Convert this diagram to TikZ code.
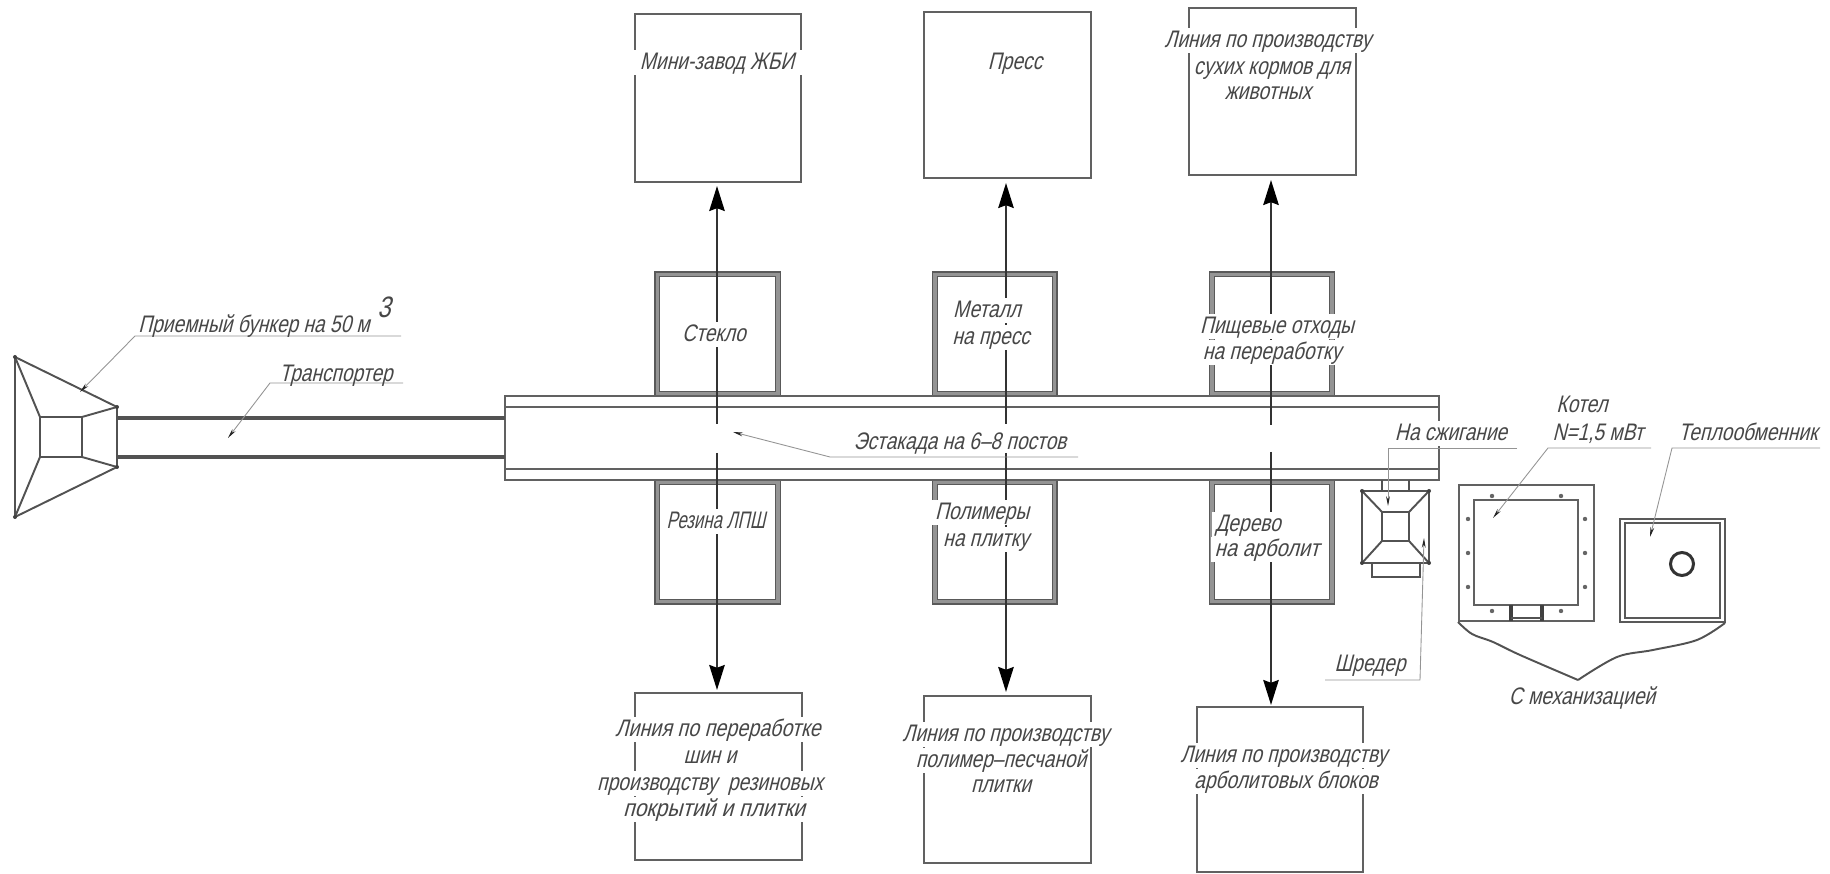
\documentclass[tikz,border=0pt]{standalone}
\usepackage{graphicx}
\usepackage{fontspec}
\setmainfont[FakeSlant=0.25,FakeStretch=0.8]{Liberation Sans}
\usetikzlibrary{arrows.meta,shapes.geometric}
\tikzset{
  every node/.style={inner sep=0pt,outer sep=0pt},
  lbl/.style={anchor=base,fill=white,text=black!72,font=\fontsize{6.8}{8}\selectfont,text height=5.6pt,text depth=1.4pt,inner xsep=1pt},
  plainbox/.style={draw=black!62,line width=.55pt,rectangle},
  wallbox/.style={draw=black!65,line width=.4pt,double=black!42,double distance=.9pt,rectangle},
  flowarrow/.style={draw=black!80,line width=.55pt,-{Stealth[length=7.1pt,width=4.4pt,inset=.8pt,black]}},
  leaderline/.style={draw=black!42,line width=.25pt,-{Stealth[length=2.8pt,width=1.1pt,black!85]}},
  outline/.style={draw=black!68,line width=.55pt},
  belt/.style={draw=black!68,line width=1pt},
  rail/.style={draw=black!62,line width=.55pt},
  stud/.style={fill=black!60}
}
\begin{document}
\begin{tikzpicture}[x=0.01cm,y=-0.01cm,line join=miter]
\useasboundingbox (0,0) rectangle (1830,874);
% product boxes
\node[plainbox,minimum width=1.66cm,minimum height=1.68cm] (top1) at (718,98) {};
\node[plainbox,minimum width=1.67cm,minimum height=1.66cm] (top2) at (1007.5,95) {};
\node[plainbox,minimum width=1.67cm,minimum height=1.67cm] (top3) at (1272.5,91.5) {};
\node[plainbox,minimum width=1.67cm,minimum height=1.67cm] (low1) at (718.5,776.5) {};
\node[plainbox,minimum width=1.67cm,minimum height=1.67cm] (low2) at (1007.5,779.5) {};
\node[plainbox,minimum width=1.66cm,minimum height=1.65cm] (low3) at (1280,789.5) {};
% sorting bays
\node[wallbox,minimum width=1.205cm,minimum height=1.19cm] (up1) at (717.75,334) {};
\node[wallbox,minimum width=1.195cm,minimum height=1.19cm] (up2) at (994.75,334) {};
\node[wallbox,minimum width=1.20cm,minimum height=1.19cm] (up3) at (1272,334) {};
\node[wallbox,minimum width=1.205cm,minimum height=1.195cm] (dn1) at (717.75,541.75) {};
\node[wallbox,minimum width=1.195cm,minimum height=1.195cm] (dn2) at (994.75,541.75) {};
\node[wallbox,minimum width=1.20cm,minimum height=1.195cm] (dn3) at (1272,541.75) {};
% trestle
\node[plainbox,fill=white,minimum width=9.34cm,minimum height=.84cm] (trestle) at (972,438) {};
\draw[rail] (505,407) -- (1439,407);
\draw[rail] (505,469) -- (1439,469);
% flow arrows
\coordinate (c1u) at (717,424); \coordinate (c2u) at (1006,424); \coordinate (c3u) at (1271,425);
\coordinate (c1d) at (717,453); \coordinate (c2d) at (1006,453); \coordinate (c3d) at (1271,452);
\draw[flowarrow,shorten >=.04cm] (c1u) -- (c1u |- top1.south);
\draw[flowarrow,shorten >=.05cm] (c2u) -- (c2u |- top2.south);
\draw[flowarrow,shorten >=.05cm] (c3u) -- (c3u |- top3.south);
\draw[flowarrow,shorten >=.03cm] (c1d) -- (c1d |- low1.north);
\draw[flowarrow,shorten >=.04cm] (c2d) -- (c2d |- low2.north);
\draw[flowarrow,shorten >=.02cm] (c3d) -- (c3d |- low3.north);
% conveyor
\coordinate (hoppertopright) at (117,407);
\coordinate (hopperbotright) at (117,467);
\draw[belt] (118,418) -- (trestle.west |- 0,418);
\draw[belt] (118,457) -- (trestle.west |- 0,457);
% receiving hopper
\draw[outline] (15,357) -- (hoppertopright) -- (hopperbotright) -- (15,517) -- cycle;
\draw[outline] (40,417) rectangle (82,457);
\draw[outline] (15,357) -- (40,417) (117,407) -- (82,417) (15,517) -- (40,457) (117,467) -- (82,457);
\foreach \p in {(15,357),(117,407),(15,517),(117,467)} \fill[black!75] \p circle[radius=.02cm];
% shredder
\draw[outline] (1362,491) rectangle (1429,563);
\draw[outline] (1382,512) rectangle (1409,541);
\draw[outline] (1362,491) -- (1382,512) (1429,491) -- (1409,512) (1362,563) -- (1382,541) (1429,563) -- (1409,541);
\draw[outline] (1382,480) -- (1382,491) (1409,480) -- (1409,491);
\draw[outline] (1372,563) rectangle (1420,577);
\foreach \p in {(1362,491),(1429,491),(1362,563),(1429,563)} \fill[black!75] \p circle[radius=.02cm];
% boiler
\node[plainbox,minimum width=1.35cm,minimum height=1.36cm] (boiler) at (1526.5,553) {};
\node[plainbox,line width=.7pt,minimum width=1.04cm,minimum height=1.05cm] (firebox) at (1526,552.5) {};
\foreach \p in {(1468,519),(1468,553),(1468,587),(1585,519),(1585,553),(1585,587),(1492,496),(1561,496),(1492,611),(1561,611)} \fill[stud] \p circle[radius=.022cm];
\draw[draw=black!75,line width=1pt] (1511,605) -- (1511,621) (1542,605) -- (1542,621);
\draw[outline] (1511,618) -- (1542,618);
% heat exchanger
\node[wallbox,double=white,line width=.55pt,double distance=.75pt,minimum width=1.00cm,minimum height=.99cm] (exchanger) at (1672.5,570.5) {};
\node[draw=black!80,line width=.85pt,circle,minimum size=.23cm] (pipe) at (1682,564) {};
% bracket
\draw[outline] plot[smooth,tension=.55] coordinates {(1458,622) (1472,634) (1493,642) (1520,655) (1578,680)};
\draw[outline] plot[smooth,tension=.55] coordinates {(1578,680) (1617,657) (1653,650) (1697,640) (1725,623)};
% leaders
\draw[leaderline] (401,336) -- (135,336) -- (80,392);
\draw[leaderline] (403,383) -- (270,383) -- (228,438);
\draw[leaderline] (1078,457) -- (830,457) -- (733,432);
\draw[leaderline] (1517,448) -- (1388,448) -- (1388,506);
\draw[leaderline] (1325,680) -- (1420,680) -- (1424,538);
\draw[leaderline] (1651,448) -- (1548,448) -- (1493,518);
\draw[leaderline] (1820,448) -- (1672,448) -- (1650,537);
% labels
\node[lbl,inner xsep=10pt] (a1) at (717,70) {Мини-завод ЖБИ};
\node[lbl] (a2) at (1015,70) {Пресс};
\node[lbl] (a3) at (1268,48) {Линия по производству};
\node[lbl] (a4) at (1272,75) {сухих кормов для};
\node[lbl] (a5) at (1268,100) {животных};
\node[lbl] (b1) at (714,342) {Стекло};
\node[lbl] (b2) at (987,318) {Металл};
\node[lbl] (b3) at (991,345) {на пресс};
\node[lbl] (b4) at (1277,334) {Пищевые отходы};
\node[lbl] (b5) at (1272,360) {на переработку};
\node[lbl,inner xsep=0pt] (c1) at (716,529) {\scalebox{.88}[1]{Резина ЛПШ}};
\node[lbl] (c2) at (982,520) {Полимеры};
\node[lbl] (c3) at (986,547) {на плитку};
\node[lbl] (c4) at (1248,532) {Дерево};
\node[lbl] (c5) at (1267,557) {\scalebox{1.05}[1]{на арболит}};
\node[lbl] (d1) at (718,737) {\scalebox{1.03}[1]{Линия по переработке}};
\node[lbl] (d2) at (710,764) {шин и};
\node[lbl] (d3) at (710,791) {производству\ \ резиновых};
\node[lbl] (d4) at (714,817) {\scalebox{1.1}[1]{покрытий и плитки}};
\node[lbl] (e1) at (1006,742) {Линия по производству};
\node[lbl] (e2) at (1001,768) {полимер--песчаной};
\node[lbl] (e3) at (1001,793) {плитки};
\node[lbl] (f1) at (1284,763) {Линия по производству};
\node[lbl] (f2) at (1286,789) {арболитовых блоков};
\node[lbl,fill=none] (g1) at (254,333) {Приемный бункер на 50 м};
\node[lbl,fill=none,font=\fontsize{8.4}{9}\selectfont] (g2) at (384,318) {3};
\node[lbl,fill=none] (g3) at (336,382) {Транспортер};
\node[lbl,fill=none] (g4) at (960,450) {Эстакада на 6--8 постов};
\node[lbl] (g5) at (1451,441) {На сжигание};
\node[lbl,fill=none] (g6) at (1582,413) {Котел};
\node[lbl,fill=none] (g7) at (1598,441) {N=1,5 мВт};
\node[lbl,fill=none] (g8) at (1748,441) {Теплообменник};
\node[lbl,fill=none] (g9) at (1370,672) {Шредер};
\node[lbl,fill=none] (g10) at (1582,705) {С механизацией};
\end{tikzpicture}
\end{document}
